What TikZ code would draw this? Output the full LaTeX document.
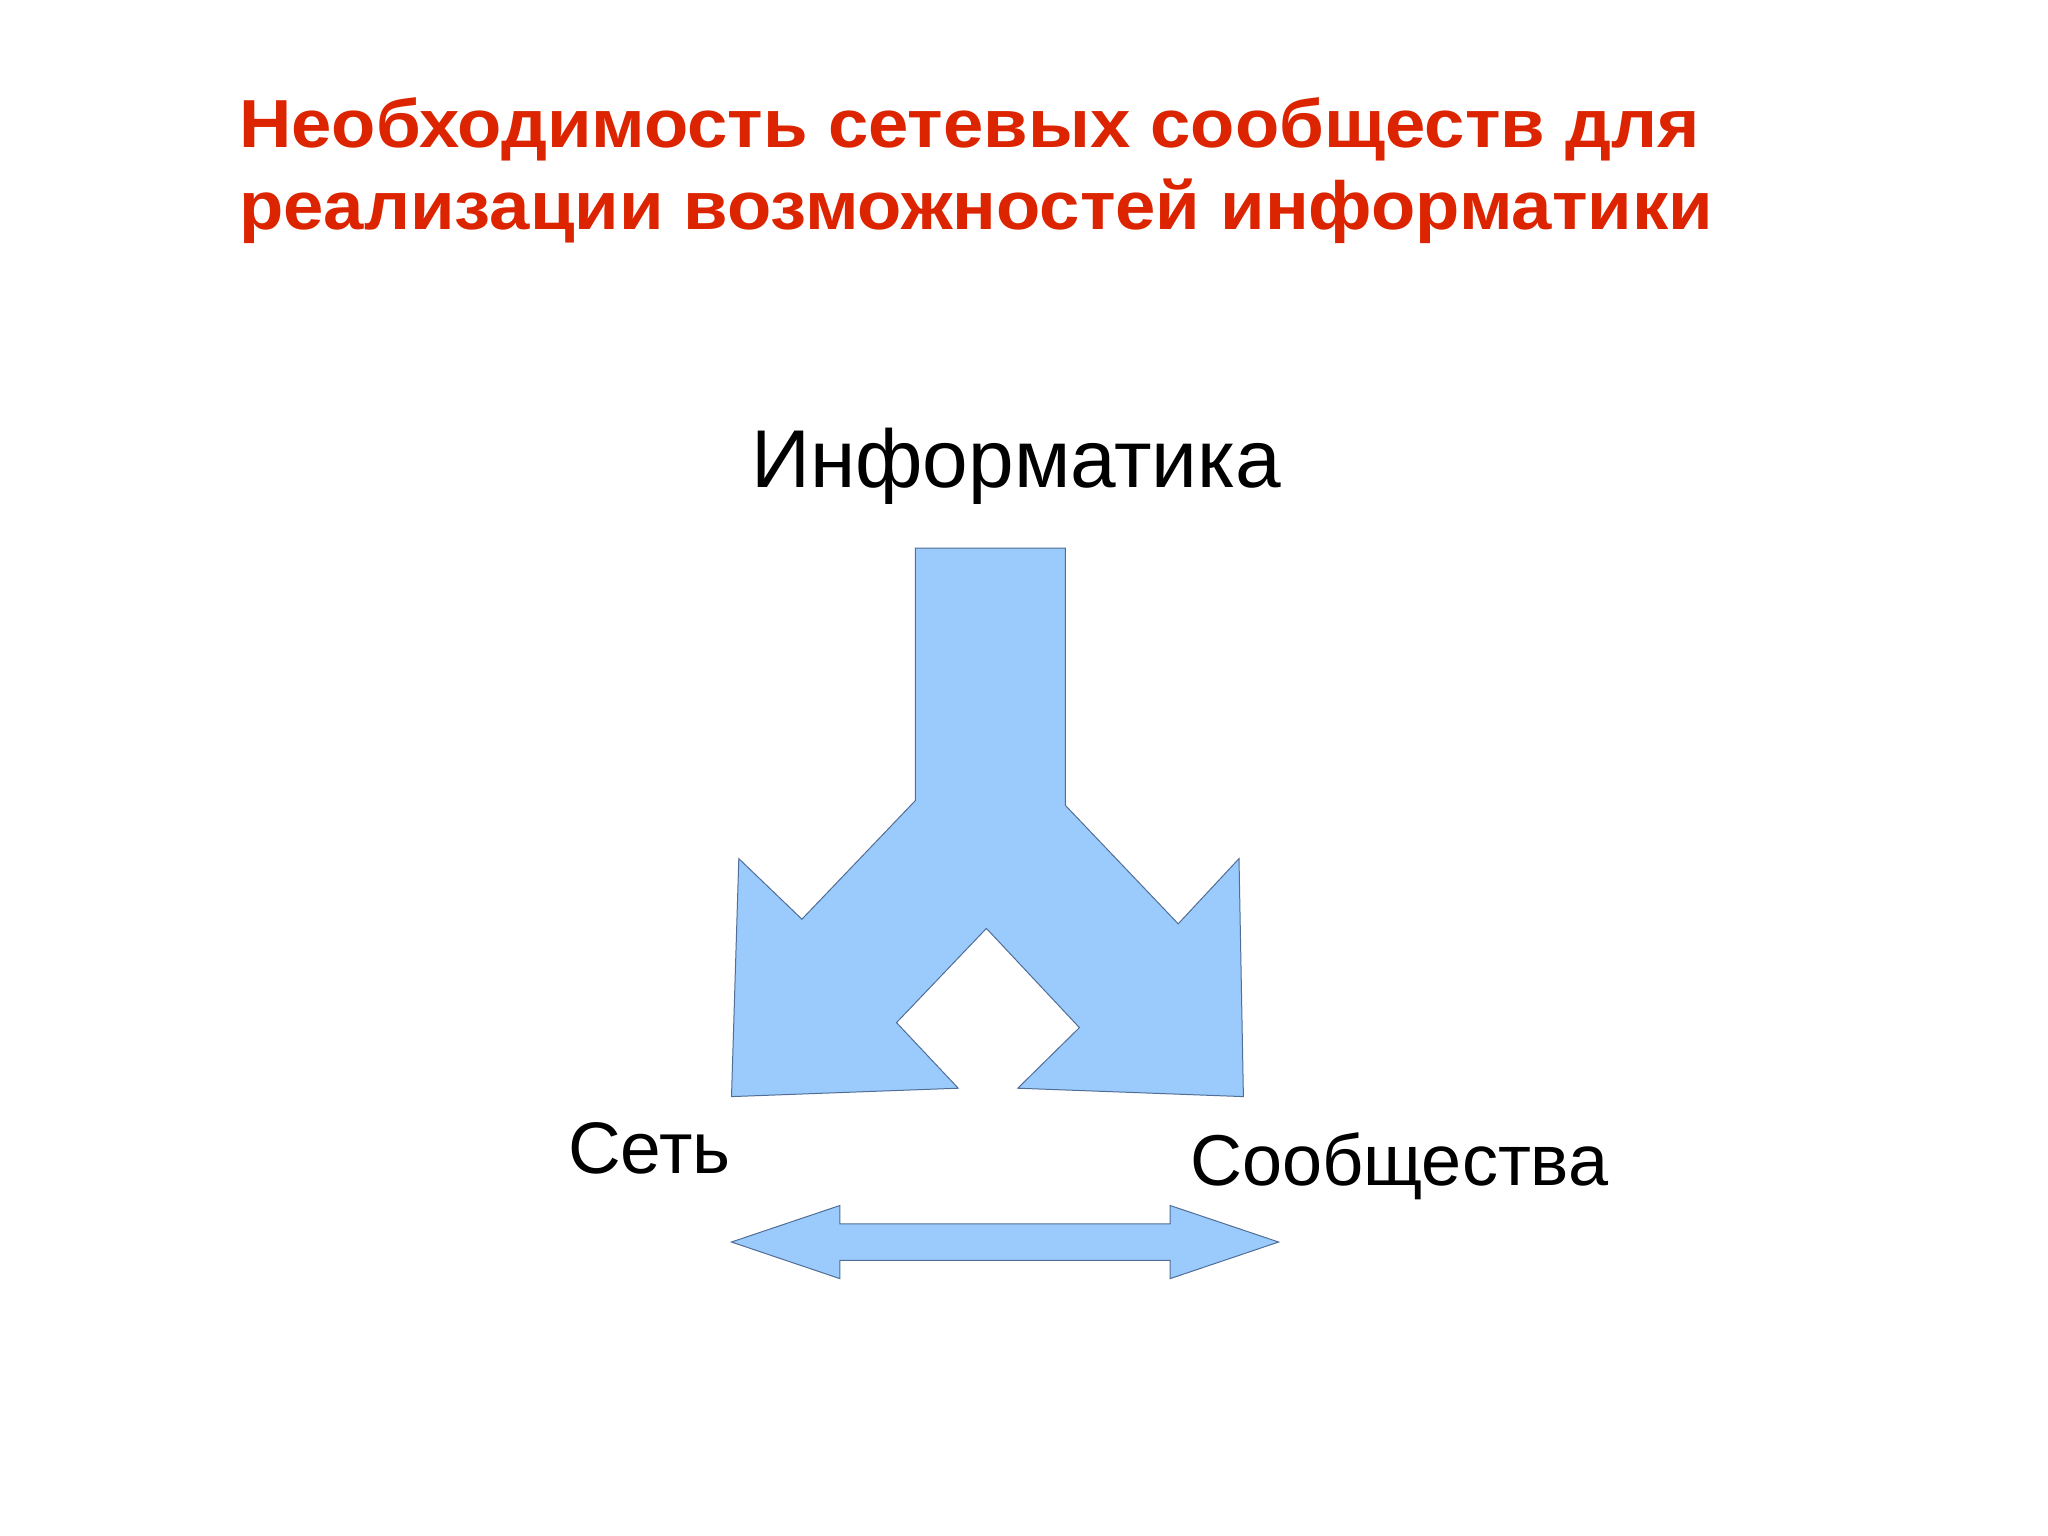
\documentclass[tikz,border=0pt]{standalone}
\usepackage{fontspec}
\setmainfont{Liberation Sans}
\usetikzlibrary{calc}
\definecolor{titlered}{RGB}{221,36,0}
\definecolor{arrowfill}{RGB}{155,202,252}
\definecolor{arrowline}{RGB}{80,110,150}
\tikzset{
  shapefill/.style={fill=arrowfill, draw=arrowline, line width=1pt, line join=miter},
  titletext/.style={text=titlered, anchor=base west, inner sep=0pt, xscale=1.066, font=\fontsize{68}{82}\bfseries\selectfont},
  labeltext/.style={text=black, anchor=base west, inner sep=0pt}
}
\begin{document}
\begin{tikzpicture}[x=1pt,y=-1pt]
\useasboundingbox (0,0) rectangle (2048,1535);
\fill[white] (0,0) rectangle (2048,1535);
% title
\node[titletext] (t1) at (239,147.6) {Необходимость сетевых сообществ для};
\node[titletext] (t2) at (239,229) {реализации возможностей информатики};
% labels
\node[labeltext, font=\fontsize{82}{98}\selectfont] (inf) at (751,487) {Информатика};
\node[labeltext, font=\fontsize{73}{88}\selectfont] (net) at (568,1173) {Сеть};
\node[labeltext, font=\fontsize{72}{86}\selectfont] (com) at (1190,1185) {Сообщества};
% split arrow
\path (915.4,548.1) coordinate (s1)
      (1065.4,548.1) coordinate (s2)
      (1065.4,805.4) coordinate (s3)
      (1178.2,923.8) coordinate (rn)
      (1239.0,858.6) coordinate (rb)
      (1243.4,1096.6) coordinate (rbr)
      (1017.8,1088.2) coordinate (rbl)
      (1079.4,1027.6) coordinate (ir)
      (986.4,928.4) coordinate (ia)
      (896.5,1022.6) coordinate (il)
      (958.2,1088.2) coordinate (lbr)
      (731.5,1096.6) coordinate (lbl)
      (738.8,858.6) coordinate (lb)
      (801.9,919.2) coordinate (ln)
      (915.4,800.5) coordinate (s4);
\draw[shapefill] (s1) -- (s2) -- (s3) -- (rn) -- (rb) -- (rbr) -- (rbl) -- (ir) -- (ia) -- (il) -- (lbr) -- (lbl) -- (lb) -- (ln) -- (s4) -- cycle;
% double arrow
\path (731.4,1242.0) coordinate (dl)
      (839.8,1205.5) coordinate (dlt)
      (839.8,1223.8) coordinate (dlst)
      (1170.2,1223.8) coordinate (drst)
      (1170.2,1205.5) coordinate (drt)
      (1278.6,1242.0) coordinate (dr)
      (1170.2,1278.6) coordinate (drb)
      (1170.2,1260.4) coordinate (drsb)
      (839.8,1260.4) coordinate (dlsb)
      (839.8,1278.6) coordinate (dlb);
\draw[shapefill] (dl) -- (dlt) -- (dlst) -- (drst) -- (drt) -- (dr) -- (drb) -- (drsb) -- (dlsb) -- (dlb) -- cycle;
\end{tikzpicture}
\end{document}
